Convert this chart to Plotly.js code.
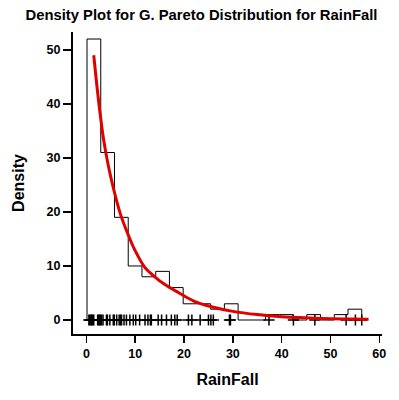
<!DOCTYPE html>
<html>
<head>
<meta charset="utf-8">
<script src="https://cdn.plot.ly/plotly-3.0.1.min.js"></script>
<style>html,body{margin:0;padding:0;background:#fff;}#chart{width:399px;height:400px;}</style>
</head>
<body>
<div id="chart"></div>
<script>
// Histogram (20 equal bins)
const binStart = 0.12;
const binWidth = 2.814;
const binCounts = [52, 31, 19, 10, 8, 9, 6, 3, 3, 2, 3, 0, 0, 1, 1, 0, 1, 0, 1, 2];

// Fitted G. Pareto density curve
const curveX = [1.5, 2.5, 3.5, 4.5, 5.5, 7, 8.5, 10, 12, 14, 16, 19, 22, 25.6, 30, 35, 40, 45, 50, 54, 57.8];
const curveY = [49, 40.5, 33.5, 28.5, 24.5, 19.5, 15.9, 12.8, 9.7, 8.0, 6.6, 5.0, 3.5, 2.45, 1.6, 1.0, 0.6, 0.4, 0.25, 0.17, 0.12];

// Rug of observations
const rugX = [0.5, 0.7, 0.9, 1.1, 1.3, 1.5, 2.3, 2.5, 2.7, 2.9, 3.1, 3.4, 4.1, 4.3, 4.8, 5.5, 5.7, 6.2, 6.7,
  7.0, 7.2, 7.7, 8.2, 8.9, 9.6, 10.1, 10.9, 12.0, 12.6, 13.1, 13.3, 14.7, 15.4, 16.4, 17.4, 18.1, 18.6,
  20.9, 21.6, 23.3, 25.0, 25.5, 26.0, 29.3, 29.5, 37.4, 42.4, 46.8, 53.2, 55.1, 56.4];

const xTicks = [0, 10, 20, 30, 40, 50, 60];
const yTicks = [0, 10, 20, 30, 40, 50];

// build step outline
const stepX = [binStart];
const stepY = [0];
binCounts.forEach((c, i) => {
  stepX.push(binStart + i * binWidth); stepY.push(c);
});
stepX.push(binStart + binCounts.length * binWidth); stepY.push(binCounts[binCounts.length - 1]);
stepX.push(binStart + binCounts.length * binWidth); stepY.push(0);

const font = 'Liberation Sans, Arial, sans-serif';

const traces = [
  {x: stepX, y: stepY, type: 'scatter', mode: 'lines', line: {shape: 'hv', color: '#000', width: 1}, hoverinfo: 'skip'},
  {x: rugX, y: rugX.map(() => 0), type: 'scatter', mode: 'markers',
   marker: {symbol: 'cross-thin-open', size: 8, line: {color: '#000', width: 1.5}, color: '#000'}},
  {x: curveX, y: curveY, type: 'scatter', mode: 'lines', line: {shape: 'spline', color: '#e00000', width: 3}}
];

const layout = {
  width: 399, height: 400,
  margin: {l: 73, r: 17, t: 32, b: 66},
  showlegend: false,
  paper_bgcolor: '#fff', plot_bgcolor: '#fff',
  title: {text: '<b>Density Plot for G. Pareto Distribution for RainFall</b>', font: {family: font, size: 14.8, color: '#000'},
          x: 0.505, xanchor: 'center', y: 0.962, yanchor: 'middle'},
  xaxis: {range: [-2.75, 60.55], tickvals: xTicks, ticktext: xTicks.map(v => '<b>' + v + '</b>'), showgrid: false, zeroline: false,
          showline: true, linecolor: '#000', linewidth: 2, ticks: 'outside', ticklen: 7, tickwidth: 1.5, tickcolor: '#000',
          tickfont: {family: font, size: 12.5, color: '#000'},
          title: {text: '<b>RainFall</b>', font: {family: font, size: 16, color: '#000'}, standoff: 14}},
  yaxis: {range: [-2.59, 53.3], tickvals: yTicks, ticktext: yTicks.map(v => '<b>' + v + '</b>'), showgrid: false, zeroline: false,
          showline: true, linecolor: '#000', linewidth: 2, ticks: 'outside', ticklen: 8, tickwidth: 1.5, tickcolor: '#000',
          tickfont: {family: font, size: 12.5, color: '#000'},
          title: {text: '<b>Density</b>', font: {family: font, size: 16, color: '#000'}, standoff: 18}}
};

Plotly.newPlot('chart', traces, layout, {displayModeBar: false, staticPlot: true});
</script>
</body>
</html>
